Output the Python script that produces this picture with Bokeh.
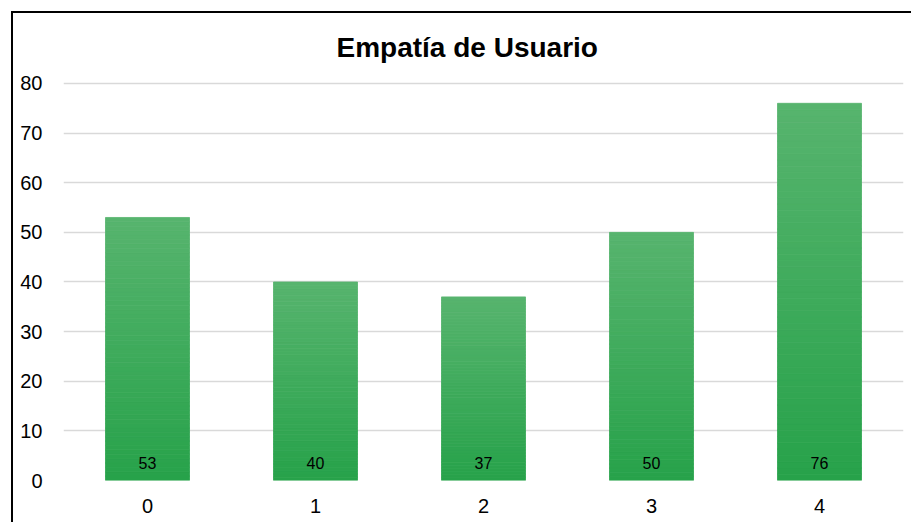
from bokeh.plotting import figure
from bokeh.models import ColumnDataSource, LabelSet, Label, Range1d
from bokeh.core.properties import value
from bokeh.embed import file_html
from bokeh.resources import INLINE

categories = ["0", "1", "2", "3", "4"]
values = [53, 40, 37, 50, 76]
y_ticks = [0, 10, 20, 30, 40, 50, 60, 70, 80]
title_text = "Empatía de Usuario"

top_rgb = (87, 180, 110)
bottom_rgb = (39, 162, 74)

# frame spans the title area too; y=80 sits at the top gridline
p = figure(x_range=categories, y_range=Range1d(0, 94.1), width=900, height=511,
           output_backend="svg", toolbar_location=None,
           min_border_left=50, min_border_right=10, min_border_top=0, min_border_bottom=44)
p.margin = (11, 0, 0, 11)
p.styles = {"border-top": "2px solid black", "border-left": "2px solid black",
            "border-right": "none", "border-bottom": "none"}

# gradient bars: slices per bar
N = 60
xs, bots, tops, cols = [], [], [], []
for c, v in zip(categories, values):
    for i in range(N):
        b = v * i / N
        t = v * (i + 1) / N
        f = (i + 0.5) / N
        r = round(bottom_rgb[0] + (top_rgb[0] - bottom_rgb[0]) * f)
        g = round(bottom_rgb[1] + (top_rgb[1] - bottom_rgb[1]) * f)
        bl = round(bottom_rgb[2] + (top_rgb[2] - bottom_rgb[2]) * f)
        xs.append(c); bots.append(b); tops.append(t)
        cols.append("#%02x%02x%02x" % (r, g, bl))
src = ColumnDataSource(dict(x=xs, bottom=bots, top=tops, color=cols))
p.vbar(x="x", bottom="bottom", top="top", width=0.5, fill_color="color",
       line_color="color", line_width=0.8, source=src)

lab_src = ColumnDataSource(dict(x=categories, y=[0] * len(values), text=[str(v) for v in values]))
p.add_layout(LabelSet(x="x", y="y", text="text", source=lab_src, text_align="center",
                      text_baseline="alphabetic", y_offset=12, text_font_size="16px",
                      text_font=value("Liberation Sans"), text_color="#000000"))

p.add_layout(Label(x=273, y=433, x_units="screen", y_units="screen", text=title_text,
                   text_font="Liberation Sans", text_font_size="28px", text_font_style="bold",
                   text_color="#000000", text_align="left", text_baseline="alphabetic"))

p.yaxis.ticker = y_ticks
p.yaxis.axis_line_color = None
p.yaxis.major_tick_line_color = None
p.yaxis.minor_tick_line_color = None
p.yaxis.major_label_text_font = "Liberation Sans"
p.yaxis.major_label_text_font_size = "20px"
p.yaxis.major_label_text_color = "#000000"
p.yaxis.major_label_standoff = 15

p.xaxis.axis_line_color = None
p.xaxis.major_tick_line_color = None
p.xaxis.minor_tick_line_color = None
p.xaxis.major_label_text_font = "Liberation Sans"
p.xaxis.major_label_text_font_size = "20px"
p.xaxis.major_label_text_color = "#000000"
p.xaxis.major_label_standoff = 12

p.xgrid.grid_line_color = None
p.ygrid.grid_line_color = "#d9d9d9"
p.ygrid.grid_line_width = 1.5
p.ygrid.level = "underlay"
p.outline_line_color = None
p.x_range.range_padding = 0

open("out.html", "w").write(file_html(p, INLINE))
